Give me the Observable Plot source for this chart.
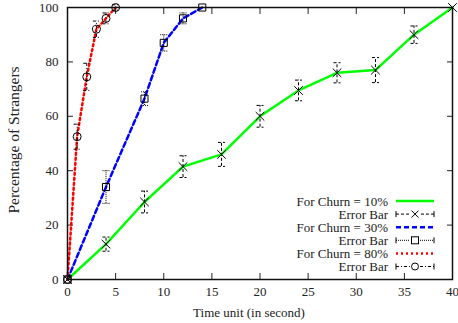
<!DOCTYPE html>
<html><head><meta charset="utf-8">
<script src="https://cdn.jsdelivr.net/npm/d3@7"></script>
<script src="https://cdn.jsdelivr.net/npm/@observablehq/plot@0.6"></script>
<style>body{margin:0;background:#fff} svg{display:block} svg text{font-family:"Liberation Serif","Times New Roman","DejaVu Serif",serif !important;}</style>
</head><body><div id="chart"></div>
<script>
const xTicks = [0, 5, 10, 15, 20, 25, 30, 35, 40];
const yTicks = [0, 20, 40, 60, 80, 100];
const xTitle = "Time unit (in second)";
const yTitle = "Percentage of Strangers";

const churn10X = [0, 4, 8, 12, 16, 20, 24, 28, 32, 36, 40];
const churn10Y = [0, 13, 28.5, 41.5, 46, 60, 69.5, 76, 77, 90, 100];
const churn10Err = [0, 2.6, 4, 4, 4.4, 4, 3.8, 3.7, 4.6, 3.2, 0];

const churn30X = [0, 4, 8, 10, 12, 14];
const churn30Y = [0, 34, 66.5, 87, 96, 100];
const churn30Err = [0, 6, 2.5, 3, 2, 0];

const churn80X = [0, 1, 2, 3, 4, 5];
const churn80Y = [0, 52.5, 74.5, 92, 96, 100];
const churn80Err = [0, 4.6, 5, 3, 2, 1];

const legendLabels = ["For Churn = 10%", "Error Bar", "For Churn = 30%", "Error Bar", "For Churn = 80%", "Error Bar"];

const rows = (xs, ys, es) => xs.map((x, i) => ({x, y: ys[i], e: es[i]}));
const c10 = rows(churn10X, churn10Y, churn10Err);
const c30 = rows(churn30X, churn30Y, churn30Err);
const c80 = rows(churn80X, churn80Y, churn80Err);

const capSymbol = {draw(ctx, size) { const w = 3.5; ctx.moveTo(-w, 0); ctx.lineTo(w, 0); }};

function errMarks(data, dash) {
  const d = data.filter(r => r.e > 0);
  return [
    Plot.ruleX(d, {x: "x", y1: r => r.y - r.e, y2: r => r.y + r.e, stroke: "black", strokeWidth: 1, strokeDasharray: dash}),
    Plot.dot(d, {x: "x", y: r => r.y - r.e, symbol: capSymbol, r: 3, stroke: "black", strokeWidth: 1, strokeDasharray: dash}),
    Plot.dot(d, {x: "x", y: r => r.y + r.e, symbol: capSymbol, r: 3, stroke: "black", strokeWidth: 1, strokeDasharray: dash})
  ];
}

const serif = "Liberation Serif, Times New Roman, DejaVu Serif, serif";

const chart = Plot.plot({
  width: 458, height: 323,
  marginLeft: 67, marginRight: 6, marginTop: 7, marginBottom: 44,
  style: {fontFamily: serif, fontSize: "13px", color: "#222", background: "white"},
  x: {domain: [0, 40]},
  y: {domain: [0, 100]},
  marks: [
    Plot.axisX({ticks: xTicks, tickSize: 0, tickPadding: 7, fontSize: 13, label: null}),
    Plot.axisX({ticks: xTicks, tickSize: -6, text: null, label: null}),
    Plot.axisX({anchor: "top", ticks: xTicks, tickSize: -6, text: null, label: null}),
    Plot.axisY({ticks: yTicks, tickSize: 0, tickPadding: 9, fontSize: 13, label: null}),
    Plot.axisY({ticks: yTicks, tickSize: -6, text: null, label: null}),
    Plot.axisY({anchor: "right", ticks: yTicks, tickSize: -6, text: null, label: null}),
    Plot.line(c10, {x: "x", y: "y", stroke: "#00ff00", strokeWidth: 2.5}),
    Plot.line(c30, {x: "x", y: "y", stroke: "#0000ff", strokeWidth: 2.5, strokeDasharray: "5,3"}),
    Plot.line(c80, {x: "x", y: "y", stroke: "#ff0000", strokeWidth: 2.5, strokeDasharray: "2,3"}),
    ...errMarks(c10, "3,2"),
    ...errMarks(c30, "1,1"),
    ...errMarks(c80, "3,2,1,2"),
    Plot.dot(c10, {x: "x", y: "y", symbol: "times", r: 4, stroke: "black", strokeWidth: 1}),
    Plot.dot(c30, {x: "x", y: "y", symbol: "square", r: 4, stroke: "black", strokeWidth: 1, fill: "none"}),
    Plot.dot(c80, {x: "x", y: "y", symbol: "circle", r: 4, stroke: "black", strokeWidth: 1, fill: "none"}),
    Plot.frame({stroke: "#111", strokeWidth: 1.5})
  ]
});
document.getElementById("chart").append(chart);

const svg = d3.select(chart);
// Axis titles
svg.append("text").attr("x", 249).attr("y", 312).attr("dy", "0.35em").attr("text-anchor", "middle")
  .attr("font-family", serif).attr("font-size", 13).attr("fill", "#222").text(xTitle);
svg.append("text").attr("transform", "translate(14,140) rotate(-90)").attr("dy", "0.35em").attr("text-anchor", "middle")
  .attr("font-family", serif).attr("font-size", 15.5).attr("fill", "#222").text(yTitle);

// Legend (bottom-right inside plot)
const lg = svg.append("g").attr("font-family", serif).attr("font-size", 13);
const rowY0 = 201, rowStep = 13.1, textX = 388, sx0 = 396, sx1 = 434;
const styles = [
  {type: "line", stroke: "#00ff00", dash: null},
  {type: "err", dash: "3,2", sym: "x"},
  {type: "line", stroke: "#0000ff", dash: "5,3"},
  {type: "err", dash: "1,1", sym: "sq"},
  {type: "line", stroke: "#ff0000", dash: "2,3"},
  {type: "err", dash: "3,2,1,2", sym: "o"}
];
legendLabels.forEach((t, i) => {
  const y = rowY0 + i * rowStep;
  lg.append("text").attr("x", textX).attr("y", y).attr("dy", "0.35em").attr("text-anchor", "end").attr("fill", "#222").text(t);
  const s = styles[i];
  if (s.type === "line") {
    lg.append("line").attr("x1", sx0).attr("x2", sx1).attr("y1", y).attr("y2", y)
      .attr("stroke", s.stroke).attr("stroke-width", 2.5).attr("stroke-dasharray", s.dash);
  } else {
    const g = lg.append("g").attr("stroke", "black").attr("fill", "none").attr("stroke-width", 1);
    g.append("line").attr("x1", sx0).attr("x2", sx1).attr("y1", y).attr("y2", y).attr("stroke-dasharray", s.dash);
    g.append("line").attr("x1", sx0).attr("x2", sx0).attr("y1", y - 3).attr("y2", y + 3);
    g.append("line").attr("x1", sx1).attr("x2", sx1).attr("y1", y - 3).attr("y2", y + 3);
    const cx = (sx0 + sx1) / 2;
    g.append("rect").attr("x", cx - 5).attr("y", y - 4).attr("width", 10).attr("height", 8).attr("fill", "white").attr("stroke", "none");
    if (s.sym === "x") g.append("path").attr("d", `M${cx-3.5},${y-3.5}L${cx+3.5},${y+3.5}M${cx-3.5},${y+3.5}L${cx+3.5},${y-3.5}`);
    if (s.sym === "sq") g.append("rect").attr("x", cx - 3.5).attr("y", y - 3.5).attr("width", 7).attr("height", 7);
    if (s.sym === "o") g.append("circle").attr("cx", cx).attr("cy", y).attr("r", 3.5);
  }
});
</script></body></html>
